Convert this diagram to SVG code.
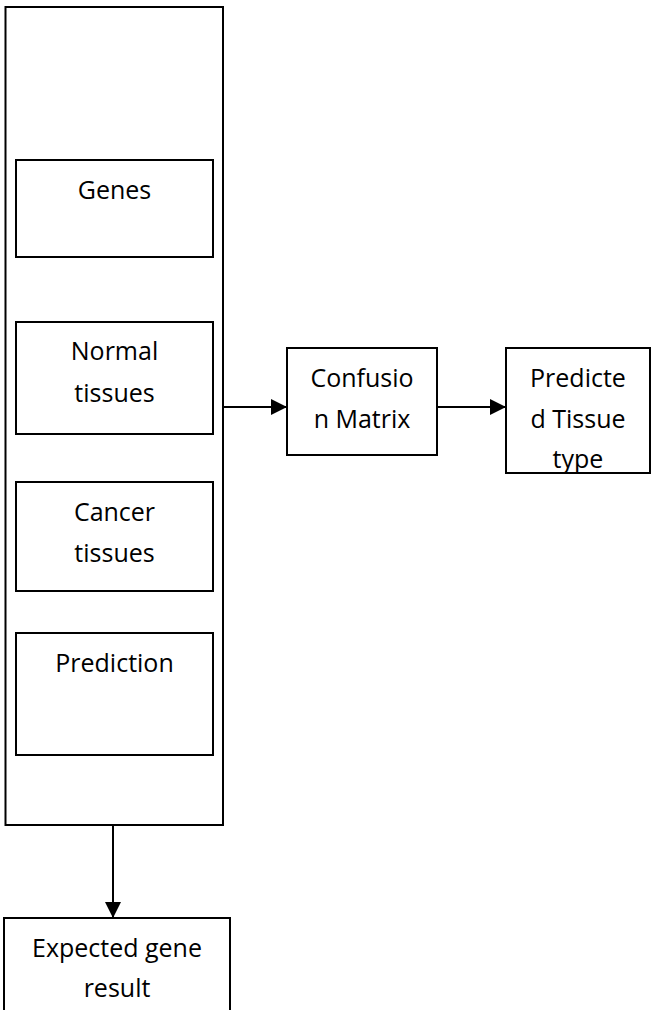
<svg xmlns="http://www.w3.org/2000/svg" width="651" height="1010" viewBox="0 0 651 1010">
<style>
.box{fill:#fff;stroke:#000;stroke-width:2}
.t{font-family:"Open Sans","Liberation Sans",sans-serif;font-size:25px;fill:#000;text-anchor:middle}
.c{stroke:#000;stroke-width:2;fill:none}
</style>
<defs>
<marker id="ah" markerUnits="userSpaceOnUse" markerWidth="16" markerHeight="16" viewBox="0 0 16 16" refX="16" refY="8" orient="auto">
<path d="M0,0 L16,8 L0,16 Z" fill="#000"/>
</marker>
<clipPath id="cp"><rect x="506" y="348" width="144" height="125"/></clipPath>
</defs>
<rect width="651" height="1010" fill="#fff"/>
<g id="container"><rect class="box" x="5.5" y="7" width="217.5" height="818"/></g>
<g id="genes"><rect class="box" x="16" y="160" width="197" height="97"/><text class="t" x="114.5" y="199">Genes</text></g>
<g id="normal"><rect class="box" x="16" y="322" width="197" height="112"/><text class="t" x="114.5" y="360">Normal</text><text class="t" x="114.5" y="402">tissues</text></g>
<g id="cancer"><rect class="box" x="16" y="482" width="197" height="109"/><text class="t" x="114.5" y="521">Cancer</text><text class="t" x="114.5" y="562">tissues</text></g>
<g id="prediction"><rect class="box" x="16" y="633" width="197" height="122"/><text class="t" x="114.5" y="672">Prediction</text></g>
<g id="confusion"><rect class="box" x="287" y="348" width="150" height="107"/><text class="t" x="362" y="387">Confusio</text><text class="t" x="362" y="428">n Matrix</text></g>
<g id="predicted"><rect class="box" x="506" y="348" width="144" height="125"/><g clip-path="url(#cp)"><text class="t" x="578" y="387">Predicte</text><text class="t" x="578" y="428">d Tissue</text><text class="t" x="578" y="468">type</text></g><line x1="506" y1="473" x2="650" y2="473" stroke="#000" stroke-width="2"/></g>
<g id="expected"><rect class="box" x="4" y="918" width="226" height="110"/><text class="t" x="117" y="957">Expected gene</text><text class="t" x="117" y="997">result</text></g>
<g id="connectors">
<line class="c" x1="223" y1="407" x2="287" y2="407" marker-end="url(#ah)"/>
<line class="c" x1="437" y1="407" x2="506" y2="407" marker-end="url(#ah)"/>
<line class="c" x1="113" y1="825" x2="113" y2="918" marker-end="url(#ah)"/>
</g>
</svg>
